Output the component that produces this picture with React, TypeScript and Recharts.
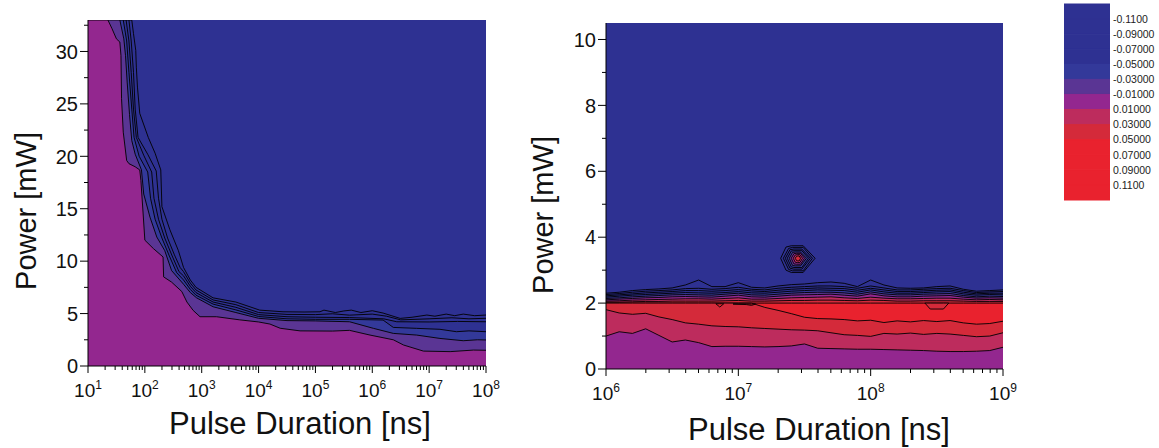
import React from "react";
import { ComposedChart, Area, XAxis, YAxis, CartesianGrid } from "recharts";

const FONT = '"Liberation Sans", Arial, Helvetica, sans-serif';

// band colours (Origin style palette)
const BLUE = "#2e3192";
const BLUE2 = "#33399a";
const PURPLE = "#5a3594";
const MAGENTA = "#93278f";
const CRIMSON = "#bd2c5d";
const DARKRED = "#d42a3a";
const RED = "#e9222e";

// colour scale
const legendEdges = [-0.13, -0.11, -0.09, -0.07, -0.05, -0.03, -0.01, 0.01, 0.03, 0.05, 0.07, 0.09, 0.11, 0.13];
const legendColors = [BLUE, BLUE, BLUE, BLUE, BLUE2, PURPLE, MAGENTA, CRIMSON, DARKRED, RED, RED, RED, RED];
const legendTicks = [-0.11, -0.09, -0.07, -0.05, -0.03, -0.01, 0.01, 0.03, 0.05, 0.07, 0.09, 0.11];
const legendLabels = ["-0.1100", "-0.09000", "-0.07000", "-0.05000", "-0.03000", "-0.01000", "0.01000", "0.03000", "0.05000", "0.07000", "0.09000", "0.1100"];

// left panel, contour lines: [log10(duration / ns), power mW]
const leftC6 = [[1.0, 33], [1.77, 33], [1.8, 31.7], [1.84, 30.1], [1.85, 28.5], [1.87, 26.6], [1.91, 24.1], [2.06, 21.8], [2.18, 20.3], [2.28, 18.7], [2.3, 15.2], [2.44, 13.0], [2.59, 11.0], [2.68, 9.4], [2.8, 8.2], [2.9, 7.5], [3.2, 6.5], [3.6, 6.1], [4.02, 5.33], [4.43, 5.17], [4.8, 5.15], [5.08, 5.17], [5.15, 5.33], [5.35, 5.1], [5.5, 5.25], [5.63, 5.33], [5.8, 5.1], [6.0, 5.27], [6.19, 5.05], [6.49, 4.54], [6.7, 4.65], [6.96, 4.86], [7.1, 4.75], [7.3, 4.95], [7.45, 4.8], [7.6, 4.95], [7.8, 4.8], [8.0, 4.86]];
const leftC5 = [[1.0, 33], [1.72, 33], [1.76, 31], [1.8, 28], [1.83, 24.5], [1.88, 21.8], [2.05, 20.2], [2.2, 18.6], [2.24, 16], [2.3, 14], [2.4, 12.2], [2.52, 10.6], [2.62, 9.4], [2.68, 9.0], [2.8, 7.9], [2.9, 7.25], [3.2, 6.3], [3.6, 5.85], [4.0, 5.1], [4.5, 4.92], [5.0, 4.9], [5.3, 4.98], [5.6, 4.85], [6.0, 4.95], [6.25, 4.75], [6.5, 4.4], [7.0, 4.5], [7.4, 4.6], [7.7, 4.5], [8.0, 4.55]];
const leftC4 = [[1.0, 33], [1.67, 33], [1.72, 31], [1.76, 28], [1.8, 24.5], [1.85, 21.8], [1.98, 20.1], [2.12, 18.5], [2.16, 16], [2.24, 14], [2.35, 12.2], [2.48, 10.5], [2.6, 9.0], [2.68, 8.6], [2.8, 7.6], [2.9, 7.0], [3.2, 6.1], [3.6, 5.6], [4.0, 4.9], [4.5, 4.7], [5.0, 4.65], [5.6, 4.62], [6.2, 4.5], [6.43, 4.22], [7.0, 4.2], [7.5, 4.25], [8.0, 4.22]];
const leftC3 = [[1.0, 33], [1.62, 33], [1.68, 31], [1.72, 28], [1.77, 24.5], [1.81, 21.8], [1.9, 20.0], [2.05, 18.5], [2.1, 16], [2.18, 14], [2.3, 12.2], [2.43, 10.5], [2.56, 8.9], [2.68, 8.2], [2.8, 7.3], [2.9, 6.75], [3.2, 5.9], [3.6, 5.35], [4.0, 4.72], [4.5, 4.5], [5.0, 4.45], [5.6, 4.45], [6.19, 4.38], [6.37, 3.68], [6.78, 3.59], [7.19, 3.5], [7.48, 3.27], [7.7, 3.35], [8.0, 3.27]];
const leftC2 = [[1.0, 33], [1.56, 33], [1.63, 31.2], [1.66, 29.6], [1.69, 27.0], [1.73, 24.0], [1.77, 21.5], [1.83, 20.2], [1.94, 18.7], [1.98, 16.4], [2.09, 14.2], [2.21, 12.3], [2.35, 11.0], [2.47, 9.1], [2.68, 7.8], [2.8, 7.0], [2.91, 6.5], [3.2, 5.65], [3.6, 5.1], [4.0, 4.55], [4.5, 4.33], [5.0, 4.3], [5.6, 4.22], [6.02, 3.59], [6.37, 3.11], [6.78, 2.95], [7.19, 2.63], [7.6, 2.41], [7.85, 2.5], [8.0, 2.48]];
const leftC1 = [[1.0, 33], [1.35, 33], [1.42, 32.2], [1.5, 31.2], [1.56, 30.9], [1.58, 29.6], [1.59, 25.5], [1.62, 22.3], [1.68, 19.6], [1.72, 19.3], [1.83, 19.0], [1.91, 18.7], [1.93, 17.7], [1.97, 14.5], [2.0, 12.0], [2.15, 11.2], [2.32, 10.4], [2.33, 8.5], [2.47, 8.0], [2.65, 7.1], [2.74, 6.1], [2.85, 5.3], [2.97, 4.7], [3.26, 4.7], [3.67, 4.4], [4.0, 4.2], [4.2, 4.0], [4.38, 3.6], [4.73, 3.35], [5.3, 3.33], [5.6, 3.4], [5.96, 2.95], [6.37, 2.5], [6.55, 2.0], [6.9, 1.42], [7.37, 1.37], [7.78, 1.52], [8.0, 1.5]];

// right panel, contour lines sampled on a common log10 grid
const rightExp = [6.0, 6.1, 6.2, 6.3, 6.4, 6.5, 6.6, 6.7, 6.8, 6.9, 7.0, 7.1, 7.2, 7.3, 7.4, 7.5, 7.6, 7.7, 7.8, 7.9, 8.0, 8.1, 8.2, 8.3, 8.4, 8.5, 8.6, 8.7, 8.8, 8.9, 9.0];
const um11 = [2.30, 2.33, 2.38, 2.41, 2.43, 2.46, 2.55, 2.70, 2.50, 2.50, 2.62, 2.48, 2.46, 2.52, 2.56, 2.58, 2.62, 2.64, 2.60, 2.50, 2.70, 2.55, 2.46, 2.45, 2.46, 2.50, 2.52, 2.42, 2.36, 2.38, 2.40];
const um09 = [2.26, 2.29, 2.33, 2.36, 2.38, 2.40, 2.44, 2.45, 2.42, 2.44, 2.48, 2.42, 2.40, 2.45, 2.48, 2.50, 2.52, 2.52, 2.50, 2.45, 2.52, 2.46, 2.40, 2.40, 2.42, 2.44, 2.45, 2.38, 2.32, 2.34, 2.35];
const um07 = [2.22, 2.25, 2.28, 2.31, 2.33, 2.35, 2.38, 2.38, 2.36, 2.38, 2.41, 2.37, 2.35, 2.39, 2.42, 2.44, 2.46, 2.45, 2.44, 2.39, 2.45, 2.40, 2.35, 2.35, 2.37, 2.39, 2.40, 2.33, 2.28, 2.30, 2.30];
const um05 = [2.18, 2.21, 2.24, 2.26, 2.28, 2.30, 2.32, 2.31, 2.30, 2.32, 2.35, 2.31, 2.30, 2.33, 2.36, 2.38, 2.40, 2.39, 2.38, 2.33, 2.40, 2.34, 2.30, 2.30, 2.32, 2.34, 2.35, 2.28, 2.24, 2.26, 2.25];
const um03 = [2.14, 2.16, 2.19, 2.21, 2.23, 2.25, 2.26, 2.25, 2.24, 2.27, 2.30, 2.25, 2.24, 2.27, 2.30, 2.32, 2.33, 2.33, 2.31, 2.27, 2.34, 2.28, 2.25, 2.25, 2.27, 2.28, 2.29, 2.23, 2.19, 2.21, 2.20];
const um01 = [2.10, 2.12, 2.14, 2.16, 2.17, 2.19, 2.20, 2.19, 2.18, 2.21, 2.24, 2.19, 2.18, 2.21, 2.24, 2.25, 2.26, 2.27, 2.24, 2.21, 2.28, 2.22, 2.19, 2.19, 2.21, 2.22, 2.23, 2.18, 2.15, 2.16, 2.15];
const u01 = [2.06, 2.07, 2.09, 2.10, 2.11, 2.12, 2.13, 2.13, 2.12, 2.14, 2.16, 2.12, 2.12, 2.14, 2.16, 2.17, 2.18, 2.19, 2.16, 2.14, 2.18, 2.15, 2.13, 2.13, 2.14, 2.15, 2.15, 2.12, 2.10, 2.11, 2.10];
const u03 = [2.03, 2.03, 2.04, 2.05, 2.05, 2.06, 2.06, 2.06, 2.06, 2.07, 2.08, 2.06, 2.06, 2.07, 2.08, 2.08, 2.09, 2.09, 2.08, 2.07, 2.09, 2.08, 2.06, 2.06, 2.07, 2.07, 2.07, 2.06, 2.05, 2.05, 2.05];
const u05 = [2.0, 2.0, 2.0, 2.0, 2.0, 2.0, 2.0, 2.0, 2.0, 2.0, 2.0, 2.0, 2.0, 2.0, 2.0, 2.0, 2.0, 2.0, 2.0, 2.0, 2.0, 2.0, 2.0, 2.0, 2.0, 2.0, 2.0, 2.0, 2.0, 2.0, 2.0];
const l3 = [2.0, 2.0, 2.0, 2.0, 2.0, 2.0, 2.0, 2.0, 2.0, 2.0, 2.0, 2.0, 1.87, 1.78, 1.68, 1.57, 1.53, 1.52, 1.50, 1.46, 1.48, 1.41, 1.46, 1.43, 1.47, 1.44, 1.47, 1.40, 1.36, 1.38, 1.45];
const l2 = [1.80, 1.70, 1.66, 1.69, 1.58, 1.50, 1.40, 1.36, 1.31, 1.29, 1.28, 1.25, 1.23, 1.21, 1.19, 1.18, 1.16, 1.10, 1.04, 1.02, 0.99, 1.08, 1.06, 1.09, 1.05, 1.08, 1.06, 1.02, 0.98, 1.00, 1.10];
const l1 = [1.00, 1.13, 1.08, 1.22, 1.02, 0.82, 0.88, 0.80, 0.68, 0.69, 0.69, 0.68, 0.67, 0.68, 0.70, 0.76, 0.63, 0.62, 0.61, 0.60, 0.60, 0.59, 0.58, 0.57, 0.56, 0.54, 0.53, 0.53, 0.54, 0.56, 0.66];

// right panel, closed contours: [log10(duration), low, high]
const ring0 = [[7.32, 3.36, 3.36], [7.36, 3.0, 3.7], [7.4, 2.93, 3.74], [7.49, 2.93, 3.74], [7.58, 3.36, 3.36]];
const ring1 = [[7.34, 3.36, 3.36], [7.38, 3.02, 3.66], [7.41, 2.98, 3.69], [7.49, 2.98, 3.69], [7.56, 3.36, 3.36]];
const ring2 = [[7.355, 3.36, 3.36], [7.39, 3.06, 3.62], [7.42, 3.03, 3.64], [7.48, 3.03, 3.64], [7.545, 3.36, 3.36]];
const ring3 = [[7.37, 3.36, 3.36], [7.4, 3.1, 3.58], [7.42, 3.08, 3.59], [7.48, 3.08, 3.59], [7.53, 3.36, 3.36]];
const ring4 = [[7.385, 3.36, 3.36], [7.41, 3.14, 3.54], [7.43, 3.13, 3.55], [7.47, 3.13, 3.55], [7.515, 3.36, 3.36]];
const ring5 = [[7.4, 3.36, 3.36], [7.42, 3.19, 3.5], [7.44, 3.18, 3.51], [7.47, 3.18, 3.51], [7.5, 3.36, 3.36]];
const ring6 = [[7.415, 3.36, 3.36], [7.43, 3.24, 3.46], [7.445, 3.23, 3.47], [7.465, 3.23, 3.47], [7.485, 3.36, 3.36]];
const ring7 = [[7.43, 3.36, 3.36], [7.44, 3.29, 3.42], [7.45, 3.28, 3.43], [7.46, 3.28, 3.43], [7.47, 3.36, 3.36]];
const pocketA = [[6.83, 1.98, 1.98], [6.86, 1.88, 1.98], [6.89, 1.98, 1.98]];
const pocketB = [[6.96, 1.97, 1.975], [7.06, 1.955, 1.975], [7.1, 1.93, 1.97], [7.13, 1.97, 1.975]];
const pocketC = [[8.41, 2.0, 2.0], [8.45, 1.82, 2.0], [8.55, 1.82, 2.0], [8.59, 2.0, 2.0]];

// axis ticks
const leftMajorX = [1e1, 1e2, 1e3, 1e4, 1e5, 1e6, 1e7, 1e8];
const rightMajorX = [1e6, 1e7, 1e8, 1e9];
const leftYTicks = [0, 2.5, 5, 7.5, 10, 12.5, 15, 17.5, 20, 22.5, 25, 27.5, 30, 32.5];
const rightYTicks = [0, 1, 2, 3, 4, 5, 6, 7, 8, 9, 10];

const withMinor = (majors: number[]) => {
  const out = [...majors];
  majors.slice(0, -1).forEach((m) => {
    for (let k = 2; k <= 9; k++) out.push(k * m);
  });
  return out;
};

const toRows = (pts: number[][]) => pts.map(([e, p]) => ({ t: 10 ** e, p }));
const toRangeRows = (pts: number[][]) => pts.map(([e, lo, hi]) => ({ t: 10 ** e, r: [lo, hi] }));

const rightRows = rightExp.map((e, i) => ({
  t: 10 ** e,
  um11: um11[i], um09: um09[i], um07: um07[i], um05: um05[i], um03: um03[i], um01: um01[i],
  u01: u01[i], u03: u03[i], u05: u05[i], l3: l3[i], l2: l2[i], l1: l1[i],
}));

const leftSeries = [
  { pts: leftC6, fill: BLUE },
  { pts: leftC5, fill: BLUE },
  { pts: leftC4, fill: BLUE },
  { pts: leftC3, fill: BLUE2 },
  { pts: leftC2, fill: PURPLE },
  { pts: leftC1, fill: MAGENTA },
];

const rightSeries = [
  { key: "um11", fill: BLUE },
  { key: "um09", fill: BLUE },
  { key: "um07", fill: BLUE },
  { key: "um05", fill: BLUE2 },
  { key: "um03", fill: PURPLE },
  { key: "um01", fill: MAGENTA },
  { key: "u01", fill: CRIMSON },
  { key: "u03", fill: DARKRED },
  { key: "u05", fill: RED },
  { key: "l3", fill: DARKRED },
  { key: "l2", fill: CRIMSON },
  { key: "l1", fill: MAGENTA },
];

const rightClosed = [
  { pts: pocketA, fill: RED },
  { pts: pocketB, fill: RED },
  { pts: pocketC, fill: DARKRED },
  { pts: ring0, fill: BLUE },
  { pts: ring1, fill: BLUE },
  { pts: ring2, fill: BLUE },
  { pts: ring3, fill: BLUE2 },
  { pts: ring4, fill: PURPLE },
  { pts: ring5, fill: MAGENTA },
  { pts: ring6, fill: CRIMSON },
  { pts: ring7, fill: DARKRED },
];

const legendRows = [0, 1].map((x) => {
  const row: any = { x };
  legendColors.forEach((_, i) => {
    row["b" + i] = [legendEdges[i], legendEdges[i + 1]];
  });
  return row;
});

const XTick = (props: any) => {
  const { x, y, payload } = props;
  const v = payload.value;
  const e = Math.round(Math.log10(v));
  const major = Math.abs(v / 10 ** e - 1) < 1e-6;
  return (
    <g>
      <line x1={x} x2={x} y1={y} y2={y + (major ? 7 : 4)} stroke="#000" />
      {major && (
        <text x={x} y={y + 31} textAnchor="middle" fontFamily={FONT} fontSize={19} fill="#111">
          <tspan>10</tspan>
          <tspan dy={-8} fontSize={12}>{e}</tspan>
        </text>
      )}
    </g>
  );
};

const makeYTick = (step: number) => (props: any) => {
  const { x, y, payload } = props;
  const v = payload.value;
  const major = Math.abs(v / step - Math.round(v / step)) < 1e-6;
  return (
    <g>
      <line x1={x - (major ? 8 : 4)} x2={x} y1={y} y2={y} stroke="#000" />
      {major && (
        <text x={x - 10} y={y} dy="0.36em" textAnchor="end" fontFamily={FONT} fontSize={20} fill="#111">
          {v}
        </text>
      )}
    </g>
  );
};

const LegendTick = (props: any) => {
  const { x, y, payload } = props;
  const i = legendTicks.findIndex((t) => Math.abs(t - payload.value) < 1e-9);
  return (
    <text x={x + 3} y={y} dy="0.36em" fontFamily={FONT} fontSize={10.5} fill="#222">
      {legendLabels[i]}
    </text>
  );
};

const frameAxes = (yMax: number, xDomain: number[]) => [
  <XAxis key="ft" xAxisId="top" orientation="top" type="number" scale="log" dataKey="t" domain={xDomain}
    height={0} tick={false} tickLine={false} stroke="#000" allowDataOverflow />,
  <YAxis key="fr" yAxisId="right" orientation="right" type="number" domain={[0, yMax]}
    width={0} tick={false} tickLine={false} stroke="#000" allowDataOverflow />,
];

export default function App() {
  const leftDomain = [1e1, 1e8];
  const rightDomain = [1e6, 1e9];
  return (
    <div style={{ position: "absolute", left: 0, top: 0, width: 1159, height: 448, background: "#fff", fontFamily: FONT }}>
      {/* left panel */}
      <div style={{ position: "absolute", left: 0, top: 0 }}>
        <ComposedChart width={500} height={448} margin={{ top: 20, right: 14, bottom: 42, left: 28 }}>
          <CartesianGrid horizontal={false} vertical={false} fill={BLUE} />
          <XAxis type="number" scale="log" dataKey="t" domain={leftDomain} ticks={withMinor(leftMajorX)}
            height={40} tickSize={0} tickMargin={0} tick={XTick} stroke="#000" interval={0} allowDataOverflow />
          <YAxis type="number" domain={[0, 33]} ticks={leftYTicks} width={60} tickSize={0} tickMargin={0}
            tick={makeYTick(5)} stroke="#000" interval={0} allowDataOverflow />
          {frameAxes(33, leftDomain)}
          {leftSeries.map((s, i) => (
            <Area key={i} data={toRows(s.pts)} dataKey="p" type="linear" fill={s.fill} fillOpacity={1}
              stroke="#000" strokeWidth={0.9} dot={false} activeDot={false} isAnimationActive={false} />
          ))}
        </ComposedChart>
      </div>

      {/* right panel */}
      <div style={{ position: "absolute", left: 520, top: 0 }}>
        <ComposedChart width={500} height={448} margin={{ top: 23, right: 17, bottom: 39, left: 26 }}>
          <CartesianGrid horizontal={false} vertical={false} fill={BLUE} />
          <XAxis type="number" scale="log" dataKey="t" domain={rightDomain} ticks={withMinor(rightMajorX)}
            height={40} tickSize={0} tickMargin={0} tick={XTick} stroke="#000" interval={0} allowDataOverflow />
          <YAxis type="number" domain={[0, 10.5]} ticks={rightYTicks} width={60} tickSize={0} tickMargin={0}
            tick={makeYTick(2)} stroke="#000" interval={0} allowDataOverflow />
          {frameAxes(10.5, rightDomain)}
          {rightSeries.map((s) => (
            <Area key={s.key} data={rightRows} dataKey={s.key} type="linear" fill={s.fill} fillOpacity={1}
              stroke="#000" strokeWidth={0.9} dot={false} activeDot={false} isAnimationActive={false} />
          ))}
          {rightClosed.map((s, i) => (
            <Area key={"c" + i} data={toRangeRows(s.pts)} dataKey="r" type="linear" fill={s.fill} fillOpacity={1}
              stroke="#000" strokeWidth={0.9} dot={false} activeDot={false} isAnimationActive={false} />
          ))}
        </ComposedChart>
      </div>

      {/* colour scale */}
      <div style={{ position: "absolute", left: 1064, top: 0 }}>
        <ComposedChart width={95} height={210} data={legendRows} margin={{ top: 4, right: 0, bottom: 10, left: 0 }}>
          <XAxis type="number" dataKey="x" domain={[0, 1]} hide />
          <YAxis type="number" orientation="right" reversed domain={[-0.13, 0.13]} ticks={legendTicks} width={49}
            tickSize={0} tickMargin={0} axisLine={false} tickLine={false} tick={LegendTick} interval={0} />
          {legendColors.map((c, i) => (
            <Area key={i} dataKey={"b" + i} type="linear" fill={c} fillOpacity={1} stroke={c} strokeWidth={1}
              dot={false} activeDot={false} isAnimationActive={false} />
          ))}
        </ComposedChart>
      </div>

      {/* axis titles */}
      <svg width={1159} height={448} style={{ position: "absolute", left: 0, top: 0, pointerEvents: "none" }}>
        <text x={300} y={434} textAnchor="middle" fontFamily={FONT} fontSize={31} fill="#111">Pulse Duration [ns]</text>
        <text x={819} y={440} textAnchor="middle" fontFamily={FONT} fontSize={31} fill="#111">Pulse Duration [ns]</text>
        <text transform="translate(36,211) rotate(-90)" textAnchor="middle" fontFamily={FONT} fontSize={29} fill="#111">Power [mW]</text>
        <text transform="translate(553,215) rotate(-90)" textAnchor="middle" fontFamily={FONT} fontSize={29} fill="#111">Power [mW]</text>
      </svg>
    </div>
  );
}
